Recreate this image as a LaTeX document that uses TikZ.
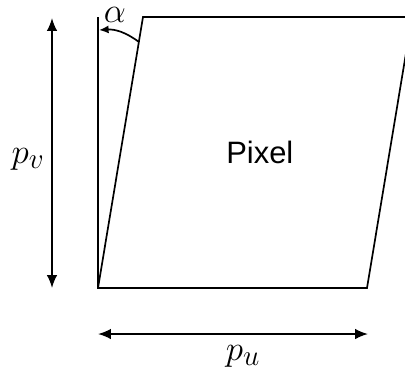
\documentclass[tikz,border=0pt]{standalone}
\usepackage{fontspec}
\newfontfamily\labelfont{Liberation Sans}
\usetikzlibrary{arrows.meta, positioning, calc}

\begin{document}
\begin{tikzpicture}[x=0.025cm, y=-0.025cm,
  edge/.style={line width=1.2pt},
  dim/.style={{Latex[length=3.2mm,width=2.6mm]}-{Latex[length=3.2mm,width=2.6mm]}, line width=1.2pt},
  lbl/.style={font=\fontsize{24.88}{30}\selectfont}
]
  \useasboundingbox (0,0) rectangle (405,377);
  % parallelogram pixel
  \coordinate (A) at (98,288);
  \coordinate (B) at (367,288);
  \coordinate (C) at (412,17);
  \coordinate (D) at (143,17);
  \coordinate (V) at (98,17);
  \draw[edge] (A) -- (B) -- (C) -- (D) -- cycle;
  \draw[edge] (A) -- (V);
  \node[font=\labelfont\fontsize{22}{26}\selectfont, xshift=0.12cm] (P) at ($(A)!0.5!(C)$) {Pixel};
  % skew angle
  \coordinate (S) at ($(A)!0.908!(D)$);
  \coordinate (E) at (99,30);
  \draw[edge, -{Latex[length=2.4mm,width=2mm]}] (S) to[bend right=20] (E);
  \node[lbl, inner sep=0pt] (alpha) at (115,15) {$\alpha$};
  % dimensions
  \coordinate (Vt) at (52,18);
  \coordinate (Vb) at (52,288);
  \coordinate (Hl) at (98,334);
  \coordinate (Hr) at (368,334);
  \draw[dim] (Vt) -- node[lbl, left=0.5mm, yshift=-0.15cm] (pv) {$p_v$} (Vb);
  \draw[dim] (Hl) -- node[lbl, below=1.5mm, xshift=0.25cm] (pu) {$p_u$} (Hr);
\end{tikzpicture}
\end{document}
